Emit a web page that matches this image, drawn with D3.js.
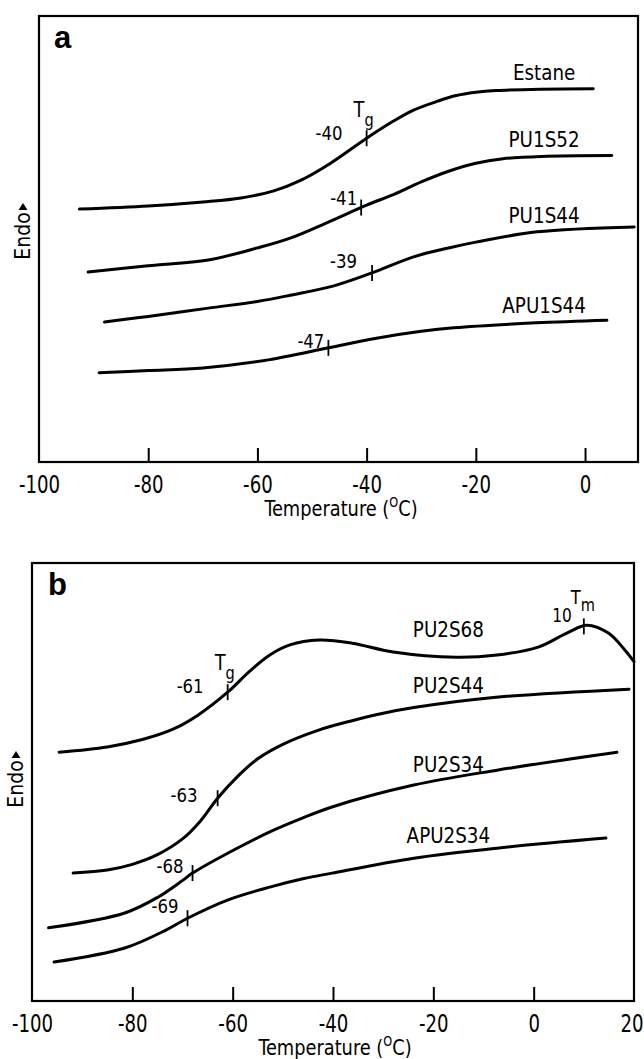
<!DOCTYPE html>
<html><head><meta charset="utf-8">
<script src="https://cdn.jsdelivr.net/npm/d3@7"></script>
<style>
html,body{margin:0;padding:0;background:#fff;}
svg text{font-family:'DejaVu Sans Condensed','Liberation Sans Narrow','Liberation Sans',sans-serif;fill:#000;}
</style></head>
<body>
<svg id="chart" width="644" height="1059"></svg>
<script>
// ---------- Data (y in arbitrary "Endo" units, 0..100 of frame) ----------
const xTicksA = [-100, -80, -60, -40, -20, 0];
const xTicksB = [-100, -80, -60, -40, -20, 0, 20];

const namesA = ["Estane", "PU1S52", "PU1S44", "APU1S44"];
const estaneT = [-92.6,-80,-70,-63,-57,-52,-46.6,-40,-35,-31.4,-27,-23.8,-20,-16.3,-8,1.5];
const estaneV = [56.7,57.4,58.3,59.2,60.8,63.2,67.0,72.6,76.5,78.9,80.9,82.1,82.9,83.3,83.6,83.7];
const pu1s52T = [-91,-80,-69,-60,-54,-47,-40,-35,-30,-25,-20,-15,-8,4.9];
const pu1s52V = [42.6,44.0,45.3,48.0,50.2,53.8,57.6,60.0,62.8,65.2,67.0,68.0,68.5,68.7];
const pu1s44T = [-88,-80,-69,-60,-54,-46,-39,-31.4,-25,-20,-8.8,9];
const pu1s44V = [31.4,32.6,34.5,36.0,37.4,39.5,42.4,46.0,48.0,49.3,51.6,52.7];
const apu1s44T = [-89,-80,-70,-58,-47,-39,-30,-24,-9,4];
const apu1s44V = [20.0,20.5,21.1,22.9,25.6,27.6,29.3,30.1,31.2,31.8];
const tgA = [-40, -41, -39, -47];

const namesB = ["PU2S68", "PU2S44", "PU2S34", "APU2S34"];
const pu2s68T = [-94.6,-85,-78,-72,-67,-61,-56.7,-52.6,-48.6,-42.8,-36.2,-28,-15.5,-7.3,0.9,6.6,10.6,14.9,18.2,20];
const pu2s68V = [56.8,58.0,59.7,62.0,65.2,70.5,75.2,79.0,81.3,82.4,81.7,79.7,78.5,79.0,80.8,84.0,85.8,84.0,80.1,77.5];
const pu2s44T = [-91.8,-85,-80,-75,-70,-66.5,-63,-59,-55,-50,-43,-36.2,-30,-23.9,-8,19];
const pu2s44V = [29.2,29.9,31.2,33.4,37.0,41.0,46.3,51.3,55.3,58.6,61.8,64.0,65.7,67.0,69.3,71.2];
const pu2s34T = [-96.7,-81.5,-74.9,-69.9,-68,-60.9,-52.6,-46,-40.2,-23.9,-7.3,16.6];
const pu2s34V = [16.7,20.1,23.7,27.6,29.2,33.8,38.6,41.8,44.3,49.3,52.7,56.8];
const apu2s34T = [-95.6,-81.5,-73.3,-69,-60.9,-52.6,-46,-40.2,-23.9,-7.3,14.4];
const apu2s34V = [8.9,12.1,16.2,18.9,23.1,26.0,27.9,29.2,32.6,34.9,37.2];
const tgB = [-61, -63, -68, -69];
const tmB = 10;

// ---------- Drawing ----------
const svg = d3.select("#chart");
const zip = (T, V) => T.map((t, i) => ({t, v: V[i]}));
function valueAt(pts, t) {
  const i = d3.bisector(d => d.t).left(pts, t);
  if (i <= 0) return pts[0].v;
  if (i >= pts.length) return pts[pts.length - 1].v;
  const a = pts[i - 1], b = pts[i];
  return a.v + (b.v - a.v) * (t - a.t) / (b.t - a.t);
}
// condensed text helper
function ctext(parent, x, y, size, anchor, sx) {
  return parent.append("g").attr("transform", `translate(${x},${y}) scale(${sx || 1},1)`)
    .append("text").attr("font-size", size).attr("text-anchor", anchor || "start");
}

function panel(cfg) {
  const g = svg.append("g");
  const x = d3.scaleLinear().domain(cfg.xDomain).range([cfg.left, cfg.right]);
  const y = d3.scaleLinear().domain([0, 100]).range([cfg.bottom, cfg.top]);

  // frame
  g.append("rect").attr("x", cfg.left).attr("y", cfg.top)
    .attr("width", cfg.right - cfg.left).attr("height", cfg.bottom - cfg.top)
    .attr("fill", "none").attr("stroke", "#000").attr("stroke-width", 2.2);

  // bottom axis with inward ticks
  const ax = d3.axisBottom(x).tickValues(cfg.ticks).tickSizeInner(-14).tickSizeOuter(0)
    .tickFormat(d => d < 0 ? "-" + Math.abs(d) : String(d));
  const axg = g.append("g").attr("transform", `translate(0,${cfg.bottom})`).call(ax);
  axg.select(".domain").remove();
  axg.selectAll(".tick line").attr("stroke", "#000").attr("stroke-width", 2)
    .attr("display", d => (d === cfg.xDomain[0] || d >= cfg.xDomain[1]) ? "none" : null);
  axg.selectAll(".tick text").attr("font-size", 24).attr("dy", null)
    .attr("y", 31).attr("x", d => d >= cfg.xDomain[1] ? -3 : 0)
    .attr("transform", "scale(0.84,1)")
    .style("font-family", "'DejaVu Sans Condensed',sans-serif");

  // axis title
  const tt = ctext(g, cfg.titleX, cfg.bottom + 54, 22, "middle", 0.9);
  tt.append("tspan").text("Temperature (");
  tt.append("tspan").text("O").attr("font-size", 14).attr("dy", -9);
  tt.append("tspan").text("C)").attr("dy", 9);

  // panel letter
  g.append("text").attr("x", cfg.left + cfg.letterDx).attr("y", cfg.top + 32)
    .attr("font-size", 31).attr("font-weight", "bold")
    .style("font-family", "'Liberation Sans','Arial',sans-serif").text(cfg.letter);

  // Endo label
  const ey = (cfg.top + cfg.bottom) / 2 + cfg.endoDy;
  const eg = g.append("g").attr("transform", `translate(${cfg.endoX},${ey}) rotate(-90)`);
  eg.append("text").attr("x", 0).attr("y", 0).attr("text-anchor", "middle")
    .attr("dy", "0.35em").attr("font-size", 21).text("Endo");
  eg.append("path").attr("d", "M26,-4.5 L33,0 L26,4.5 Z").attr("fill", "#000");

  const line = d3.line().x(d => x(d.t)).y(d => y(d.v)).curve(d3.curveCatmullRom.alpha(0.5));

  cfg.series.forEach((s, i) => {
    const pts = zip(s.T, s.V);
    g.append("path").datum(pts).attr("d", line)
      .attr("fill", "none").attr("stroke", "#000").attr("stroke-width", 3)
      .attr("stroke-linecap", "round");
    // Tg tick
    const tx = x(s.tg), ty = y(valueAt(pts, s.tg));
    g.append("line").attr("x1", tx).attr("x2", tx).attr("y1", ty - 8).attr("y2", ty + 8)
      .attr("stroke", "#000").attr("stroke-width", 1.8);
    ctext(g, tx + s.tgLab[0], ty + s.tgLab[1], 20, "end", 0.92).text("-" + Math.abs(s.tg));
    if (s.tgSymbol) {
      const tg = ctext(g, tx - 13, ty + s.tgSymbol, 22, "start", 0.9);
      tg.append("tspan").text("T");
      tg.append("tspan").text("g").attr("font-size", 18).attr("dy", 9);
    }
    // name label
    const lx = x(cfg.labelT), ly = y(valueAt(pts, cfg.labelT));
    ctext(g, lx, ly - s.nameDy, 21, "middle", 0.97).text(s.name);
    if (s.tm !== undefined) {
      const mx = x(s.tm), my = y(valueAt(pts, s.tm));
      g.append("line").attr("x1", mx).attr("x2", mx).attr("y1", my - 8).attr("y2", my + 8)
        .attr("stroke", "#000").attr("stroke-width", 1.8);
      ctext(g, mx - 12, my - 4, 19, "end", 0.9).text(String(s.tm));
      const tm = ctext(g, mx - 13, my - 22, 20, "start", 0.9);
      tm.append("tspan").text("T");
      tm.append("tspan").text("m").attr("font-size", 18).attr("dy", 7);
    }
  });
}

panel({
  letter: "a", letterDx: 15, xDomain: [-100, 9.7], ticks: xTicksA,
  left: 39, right: 638, top: 16, bottom: 462, titleX: 341, endoX: 23, endoDy: -3,
  labelT: -7.5,
  series: [
    {name: namesA[0], T: estaneT, V: estaneV, tg: tgA[0], tgLab: [-24, 2], tgSymbol: -21, nameDy: 9},
    {name: namesA[1], T: pu1s52T, V: pu1s52V, tg: tgA[1], tgLab: [-4, -3], nameDy: 9},
    {name: namesA[2], T: pu1s44T, V: pu1s44V, tg: tgA[2], tgLab: [-15, -5], nameDy: 9},
    {name: namesA[3], T: apu1s44T, V: apu1s44V, tg: tgA[3], tgLab: [-4, 0], nameDy: 10}
  ]
});

panel({
  letter: "b", letterDx: 16, xDomain: [-100, 20], ticks: xTicksB,
  left: 32, right: 634, top: 563, bottom: 1001, titleX: 335, endoX: 16, endoDy: 2,
  labelT: -17,
  series: [
    {name: namesB[0], T: pu2s68T, V: pu2s68V, tg: tgB[0], tgLab: [-24, 1], tgSymbol: -22, nameDy: 20, tm: tmB},
    {name: namesB[1], T: pu2s44T, V: pu2s44V, tg: tgB[1], tgLab: [-20, 4], nameDy: 10},
    {name: namesB[2], T: pu2s34T, V: pu2s34V, tg: tgB[2], tgLab: [-9, 0], nameDy: 7},
    {name: namesB[3], T: apu2s34T, V: apu2s34V, tg: tgB[3], tgLab: [-9, -5], nameDy: 11}
  ]
});
</script>
</body></html>
